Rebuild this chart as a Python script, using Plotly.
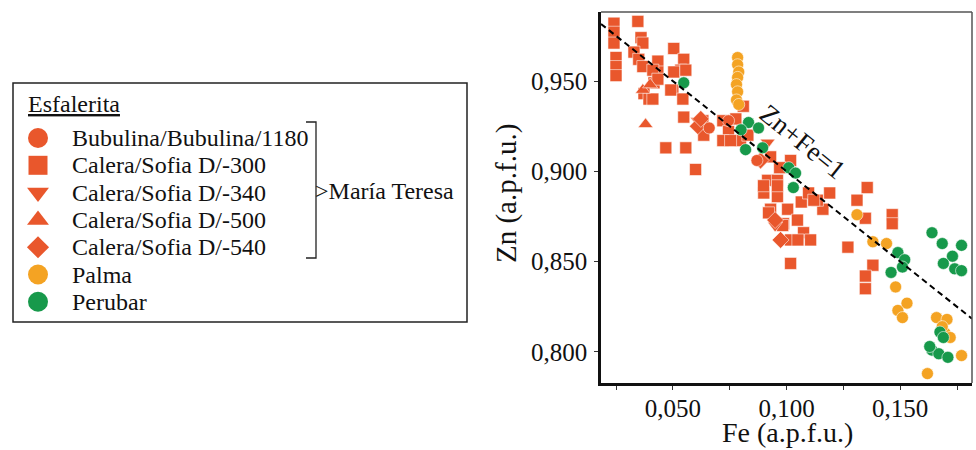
import plotly.graph_objects as go

# ---------------- data ----------------
series_names = ["Bubulina/Bubulina/1180", "Calera/Sofia D/-300", "Calera/Sofia D/-340",
                "Calera/Sofia D/-500", "Calera/Sofia D/-540", "Palma", "Perubar"]

bub_fe = [0.066, 0.0745, 0.087]
bub_zn = [0.924, 0.928, 0.906]

c300_fe = [0.0241, 0.0346, 0.0241, 0.0241, 0.036, 0.0368, 0.025, 0.025, 0.025, 0.0329, 0.035, 0.0368,
           0.0434, 0.0434, 0.0504, 0.0548, 0.0535, 0.050, 0.0417, 0.0373, 0.0395, 0.0412, 0.0434, 0.0412,
           0.0504, 0.0557, 0.0491, 0.0544, 0.0548, 0.0469, 0.0557, 0.060, 0.0632, 0.0636,
           0.081, 0.072, 0.0777, 0.0745, 0.0798, 0.072, 0.083, 0.0754,
           0.0917, 0.096, 0.090, 0.096, 0.1018, 0.097, 0.093, 0.1005, 0.1065, 0.0987, 0.1048, 0.1075,
           0.1018, 0.1106, 0.1018, 0.1097, 0.116, 0.1136, 0.127, 0.1355, 0.131, 0.1347, 0.1465, 0.1465,
           0.138, 0.1347, 0.1347, 0.112, 0.105, 0.0899, 0.096, 0.0921, 0.0983, 0.093, 0.119]
c300_zn = [0.982, 0.983, 0.977, 0.971, 0.974, 0.971, 0.963, 0.958, 0.953, 0.966, 0.962, 0.958,
           0.961, 0.955, 0.968, 0.962, 0.956, 0.945, 0.949, 0.943, 0.940, 0.956, 0.951, 0.940,
           0.955, 0.956, 0.945, 0.940, 0.930, 0.913, 0.913, 0.901, 0.928, 0.920,
           0.936, 0.928, 0.929, 0.922, 0.917, 0.917, 0.920, 0.917,
           0.895, 0.895, 0.888, 0.886, 0.906, 0.902, 0.879, 0.879, 0.883, 0.871, 0.873, 0.866,
           0.862, 0.862, 0.849, 0.888, 0.879, 0.884, 0.858, 0.891, 0.884, 0.874, 0.876, 0.871,
           0.848, 0.842, 0.835, 0.884, 0.862, 0.892, 0.892, 0.877, 0.870, 0.908, 0.888]

c340_fe = [0.061, 0.0917, 0.095]
c340_zn = [0.928, 0.916, 0.870]

c500_fe = [0.038, 0.0368, 0.040]
c500_zn = [0.926, 0.945, 0.948]

c540_fe = [0.061, 0.0623, 0.0886, 0.0974, 0.095]
c540_zn = [0.925, 0.929, 0.906, 0.862, 0.873]

palma_fe = [0.0785, 0.0785, 0.079, 0.0785, 0.078, 0.0785, 0.078, 0.079,
            0.131, 0.138, 0.144, 0.148, 0.149, 0.153, 0.151, 0.166, 0.1706, 0.1697,
            0.172, 0.177, 0.162, 0.1685]
palma_zn = [0.963, 0.959, 0.955, 0.952, 0.948, 0.944, 0.9395, 0.937,
            0.876, 0.861, 0.860, 0.836, 0.823, 0.827, 0.819, 0.819, 0.818, 0.8105,
            0.808, 0.798, 0.788, 0.814]

peru_fe = [0.0548, 0.0833, 0.080, 0.0877, 0.082, 0.0895, 0.101, 0.104, 0.103,
           0.149, 0.152, 0.146, 0.151, 0.164, 0.1685, 0.177, 0.173, 0.169, 0.174, 0.177,
           0.1675, 0.164, 0.167, 0.171, 0.169, 0.163]
peru_zn = [0.949, 0.927, 0.923, 0.924, 0.912, 0.913, 0.902, 0.899, 0.891,
           0.855, 0.851, 0.844, 0.847, 0.866, 0.860, 0.859, 0.853, 0.849, 0.846, 0.845,
           0.811, 0.801, 0.799, 0.797, 0.808, 0.803]

line_fe = [0.0184, 0.1816]          # Zn+Fe=1 reference line
line_zn = [1 - v for v in line_fe]

x_range = [0.0184, 0.1816]
y_range = [0.7828, 0.9882]

x_title = "Fe (a.p.f.u.)"
y_title = "Zn (a.p.f.u.)"

# ---------------- style ----------------
RED = "#E9572C"
ORANGE = "#F4A323"
GREEN = "#17994B"
FONT = "Liberation Serif"

series = [
    (series_names[0], bub_fe, bub_zn, "circle", RED),
    (series_names[1], c300_fe, c300_zn, "square", RED),
    (series_names[2], c340_fe, c340_zn, "triangle-down", RED),
    (series_names[3], c500_fe, c500_zn, "triangle-up", RED),
    (series_names[4], c540_fe, c540_zn, "diamond", RED),
    (series_names[5], palma_fe, palma_zn, "circle", ORANGE),
    (series_names[6], peru_fe, peru_zn, "circle", GREEN),
]

W, H = 976, 450
def px(x): return x / W
def py(y): return 1 - y / H

fig = go.Figure()

order = [1, 2, 3, 4, 0, 5, 6]
for i in order:
    name, fe, zn, sym, col = series[i]
    fig.add_trace(go.Scatter(
        x=fe, y=zn, mode="markers", name=name, showlegend=False,
        marker=dict(symbol=sym, size=12 if sym in ("circle", "square") else 13, color=col,
                    line=dict(color="rgba(255,255,255,0.7)", width=0.8)),
        xaxis="x", yaxis="y"))

fig.add_trace(go.Scatter(x=line_fe, y=line_zn, mode="lines", showlegend=False,
                         line=dict(color="black", width=2, dash="6px,4px"),
                         xaxis="x", yaxis="y"))

# manual legend keys on a pixel-space axis covering only the legend box
LEG_W, LEG_H = 480, 340
leg_x = 38
leg_y0 = 138
leg_dy = 27.3
key_size = {"circle": 20, "square": 19, "triangle-down": 19, "triangle-up": 19, "diamond": 17}
for i, (name, fe, zn, sym, col) in enumerate(series):
    fig.add_trace(go.Scatter(
        x=[leg_x], y=[leg_y0 + i * leg_dy], mode="markers", showlegend=False, hoverinfo="skip",
        marker=dict(symbol=sym, size=key_size[sym], color=col, line=dict(width=0)),
        xaxis="x2", yaxis="y2"))

annotations = []
for i, (name, *_rest) in enumerate(series):
    annotations.append(dict(x=px(70), y=py(leg_y0 + i * leg_dy), xref="paper", yref="paper",
                            text=name, showarrow=False, xanchor="left", yanchor="middle",
                            font=dict(family=FONT, size=24, color="#111")))
annotations.append(dict(x=px(26), y=py(104), xref="paper", yref="paper", text="<u>Esfalerita</u>",
                        showarrow=False, xanchor="left", yanchor="middle",
                        font=dict(family=FONT, size=24, color="#111")))
annotations.append(dict(x=px(313), y=py(191), xref="paper", yref="paper", text="&gt;María Teresa",
                        showarrow=False, xanchor="left", yanchor="middle",
                        font=dict(family=FONT, size=24, color="#111")))
annotations.append(dict(x=0.1072, y=0.9162, xref="x", yref="y", text="Zn+Fe=1", showarrow=False,
                        textangle=39, font=dict(family=FONT, size=27, color="#111")))
# axis titles
annotations.append(dict(x=px(787), y=py(432), xref="paper", yref="paper", text=x_title, showarrow=False,
                        xanchor="center", yanchor="middle", font=dict(family=FONT, size=28, color="#111")))
annotations.append(dict(x=px(506), y=py(194), xref="paper", yref="paper", text=y_title, showarrow=False,
                        textangle=-90, xanchor="center", yanchor="middle",
                        font=dict(family=FONT, size=29, color="#111")))

shapes = [
    dict(type="rect", xref="paper", yref="paper", x0=px(13), x1=px(467), y0=py(322), y1=py(83),
         line=dict(color="#222", width=1.5)),
    dict(type="path", xref="paper", yref="paper",
         path=f"M {px(306)},{py(122)} L {px(316)},{py(122)} L {px(316)},{py(258)} L {px(306)},{py(258)}",
         line=dict(color="#222", width=1.3)),
    dict(type="line", xref="paper", yref="paper", x0=px(601), x1=px(972), y0=py(12), y1=py(12),
         line=dict(color="#555", width=1.5)),
    dict(type="line", xref="paper", yref="paper", x0=px(972), x1=px(972), y0=py(12), y1=py(383),
         line=dict(color="#555", width=1.5)),
]

fig.update_layout(
    width=W, height=H,
    margin=dict(l=0, r=0, t=0, b=0),
    paper_bgcolor="white", plot_bgcolor="rgba(0,0,0,0)",
    separators=",.",
    font=dict(family=FONT, color="#111"),
    xaxis=dict(domain=[px(601), px(972)], range=x_range, anchor="y",
               showline=True, linecolor="#111", linewidth=2.5, showgrid=False, zeroline=False,
               tick0=0.05, dtick=0.05, tickformat=".3f", ticks="outside", ticklen=4,
               ticklabelstandoff=-3,
               tickcolor="#333", tickfont=dict(family=FONT, size=25, color="#111"),
               minor=dict(tick0=0.025, dtick=0.025, ticks="outside", ticklen=4, tickcolor="#333")),
    yaxis=dict(domain=[py(383), py(12)], range=y_range, anchor="x",
               showline=True, linecolor="#111", linewidth=2.5, showgrid=False, zeroline=False,
               tick0=0.8, dtick=0.05, tickformat=".3f", ticks="outside", ticklen=4,
               ticklabelstandoff=2,
               tickcolor="#333", tickfont=dict(family=FONT, size=25, color="#111")),
    xaxis2=dict(domain=[0, px(LEG_W)], range=[0, LEG_W], visible=False, anchor="y2", fixedrange=True),
    yaxis2=dict(domain=[py(LEG_H), 1], range=[LEG_H, 0], visible=False, anchor="x2", fixedrange=True),
    annotations=annotations,
    shapes=shapes,
    showlegend=False,
)

fig.write_html("out.html")
